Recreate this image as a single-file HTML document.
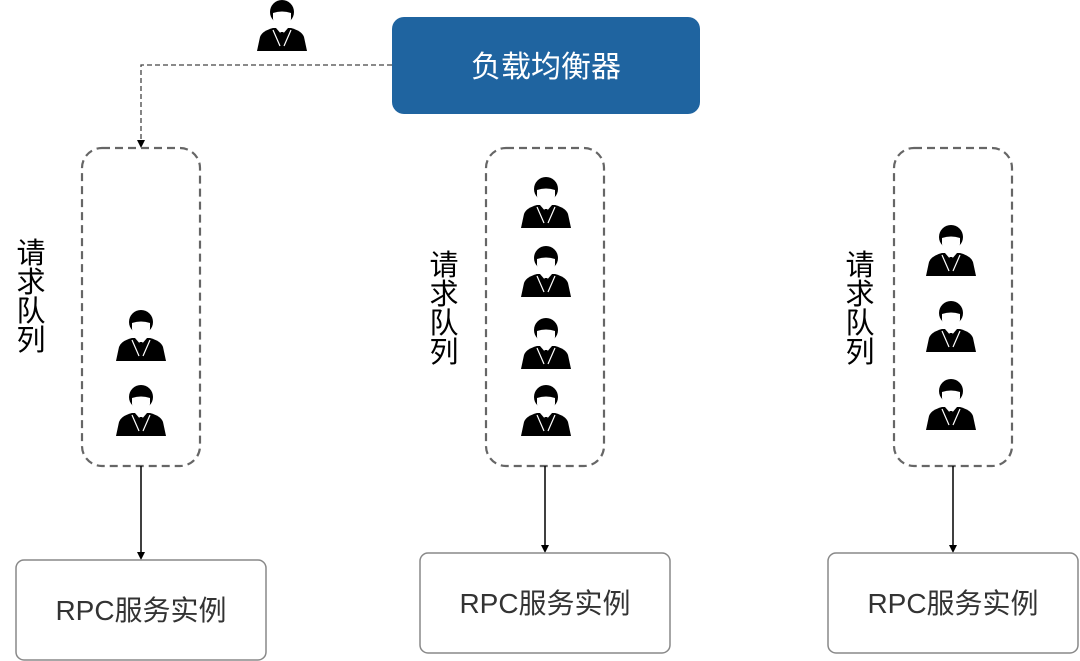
<!DOCTYPE html>
<html><head><meta charset="utf-8"><style>
body{margin:0;background:#fff;}
svg{display:block;}
text{font-family:"Liberation Sans","Noto Sans CJK SC",sans-serif;}
</style></head><body>
<svg width="1080" height="661" viewBox="0 0 1080 661" xmlns="http://www.w3.org/2000/svg">
<defs>
<g id="p">
<path d="M1,51 L4,37 Q6,31 17,28 L35,28 Q46,31 48,37 L51,51 Z" fill="#000"/>
<ellipse cx="26" cy="12" rx="12" ry="12" fill="#000"/>
<path d="M17,13 Q26,10 35,13 L35,19 Q33,28 26,30 Q19,28 17,19 Z" fill="#fff"/>
<path d="M20,28 L26,35 L32,28 Z" fill="#fff"/>
<path d="M24.5,32 L27.5,32 L28.5,45 L26,49 L23.5,45 Z" fill="#000"/>
<path d="M17,30 L24,46 M35,30 L28,46" stroke="#fff" stroke-width="1.2" fill="none"/>
</g>
</defs>
<use href="#p" x="256" y="0"/>
<rect x="392" y="17" width="308" height="97" rx="12" fill="#1f64a0"/>
<text x="546" y="77" font-size="30" fill="#fff" text-anchor="middle">负载均衡器</text>
<path d="M392,65 H141 V146" stroke="#444" stroke-width="1.3" stroke-dasharray="5,3" fill="none"/>
<path d="M137,140 L145,140 L141,148 Z" fill="#000"/>
<g fill="none" stroke="#666" stroke-width="2.2" stroke-dasharray="8,5">
<rect x="82" y="148" width="118" height="318" rx="20"/>
<rect x="486" y="148" width="118" height="318" rx="20"/>
<rect x="894" y="148" width="118" height="318" rx="20"/>
</g>
<g stroke="#000" stroke-width="1.5">
<line x1="141" y1="466" x2="141" y2="554"/>
<line x1="545" y1="466" x2="545" y2="547"/>
<line x1="953" y1="466" x2="953" y2="547"/>
</g>
<g fill="#000">
<path d="M137,552 L145,552 L141,560 Z"/>
<path d="M541,545 L549,545 L545,553 Z"/>
<path d="M949,545 L957,545 L953,553 Z"/>
</g>
<g fill="#fff" stroke="#888" stroke-width="1.5">
<rect x="16" y="560" width="250" height="100" rx="8"/>
<rect x="420" y="553" width="250" height="100" rx="8"/>
<rect x="828" y="553" width="250" height="100" rx="8"/>
</g>
<g font-size="28" fill="#333" text-anchor="middle">
<text x="141" y="620">RPC服务实例</text>
<text x="545" y="613">RPC服务实例</text>
<text x="953" y="613">RPC服务实例</text>
</g>
<g font-size="29" fill="#000" text-anchor="middle">
<text x="31" y="263">请</text><text x="31" y="292">求</text><text x="31" y="321">队</text><text x="31" y="350">列</text>
<text x="444" y="275">请</text><text x="444" y="304">求</text><text x="444" y="333">队</text><text x="444" y="362">列</text>
<text x="860" y="275">请</text><text x="860" y="304">求</text><text x="860" y="333">队</text><text x="860" y="362">列</text>
</g>
<use href="#p" x="115" y="310"/>
<use href="#p" x="115" y="385"/>
<use href="#p" x="520" y="177"/>
<use href="#p" x="520" y="246"/>
<use href="#p" x="520" y="318"/>
<use href="#p" x="520" y="385"/>
<use href="#p" x="925" y="225"/>
<use href="#p" x="925" y="301"/>
<use href="#p" x="925" y="379"/>
</svg>
</body></html>
